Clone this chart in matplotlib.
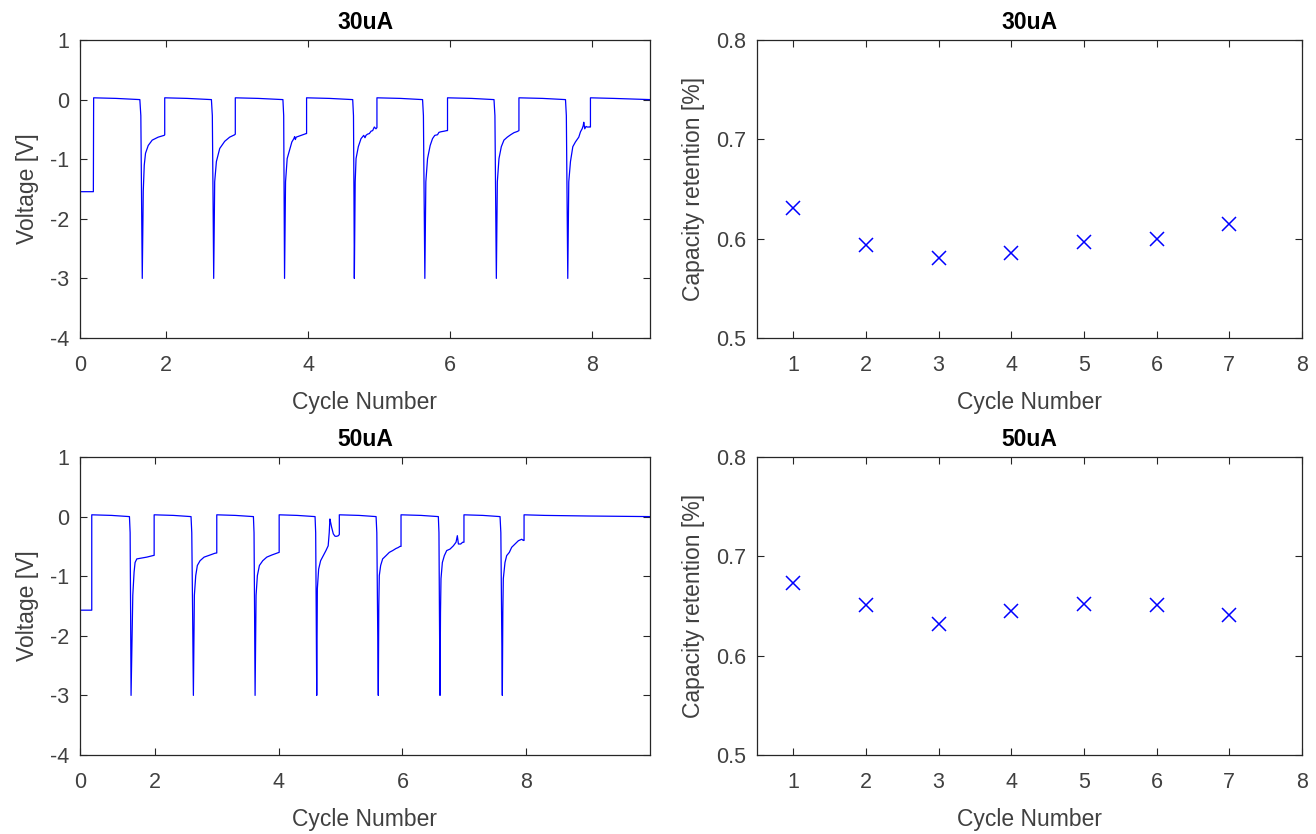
import numpy as np
import matplotlib
matplotlib.use("Agg")
import matplotlib.pyplot as plt

plt.rcParams['font.family'] = ['Liberation Sans', 'DejaVu Sans']
plt.rcParams['axes.unicode_minus'] = False

# voltage trace, 30uA (x = cycle number, v = volts)
t30 = [0.79, 0.978, 0.982, 1.30, 1.632, 1.646, 1.656, 1.666, 1.680, 1.694, 1.712, 1.750, 1.806, 1.890, 1.974, 1.982,
       1.982, 2.30, 2.639, 2.652, 2.662, 2.671, 2.685, 2.709, 2.756, 2.826, 2.896, 2.966, 2.975,
       2.975, 3.30, 3.645, 3.656, 3.662, 3.668, 3.682, 3.705, 3.738, 3.771, 3.799, 3.81, 3.82, 3.832, 3.855, 3.925, 3.972, 3.978,
       3.978, 4.30, 4.627, 4.638, 4.645, 4.65, 4.662, 4.674, 4.706, 4.744, 4.782, 4.80, 4.814, 4.835, 4.861, 4.885, 4.908, 4.931, 4.954, 4.968,
       4.968, 5.30, 5.61, 5.622, 5.632, 5.642, 5.656, 5.680, 5.717, 5.75, 5.782, 5.82, 5.84, 5.867, 5.913, 5.951, 5.961,
       5.961, 6.30, 6.615, 6.628, 6.638, 6.648, 6.662, 6.685, 6.718, 6.755, 6.802, 6.849, 6.896, 6.943, 6.966,
       6.966, 7.30, 7.621, 7.633, 7.643, 7.653, 7.667, 7.691, 7.724, 7.761, 7.808, 7.832, 7.855, 7.87, 7.878, 7.892, 7.91, 7.925, 7.962, 7.972,
       7.972, 8.30, 8.81]
v30 = [-1.545, -1.545, 0.03, 0.02, 0.0, -0.27, -1.65, -3.0, -1.54, -1.10, -0.90, -0.77, -0.68, -0.63, -0.60, -0.59,
       0.03, 0.02, 0.0, -0.27, -1.65, -3.0, -1.38, -1.04, -0.82, -0.70, -0.63, -0.59, -0.58,
       0.03, 0.02, 0.0, -0.27, -1.65, -3.0, -1.38, -0.99, -0.85, -0.71, -0.655, -0.62, -0.67, -0.63, -0.62, -0.59, -0.57, -0.57,
       0.03, 0.02, 0.0, -0.27, -1.65, -3.0, -1.38, -0.99, -0.79, -0.655, -0.60, -0.64, -0.60, -0.58, -0.57, -0.53, -0.52, -0.46, -0.49, -0.47,
       0.03, 0.02, 0.0, -0.27, -1.65, -3.0, -1.38, -0.99, -0.77, -0.655, -0.60, -0.59, -0.55, -0.54, -0.53, -0.52, -0.52,
       0.03, 0.02, 0.0, -0.27, -1.65, -3.0, -1.38, -0.99, -0.79, -0.68, -0.63, -0.59, -0.555, -0.535, -0.52,
       0.03, 0.02, 0.0, -0.27, -1.65, -3.0, -1.38, -1.04, -0.79, -0.71, -0.63, -0.54, -0.49, -0.44, -0.38, -0.49, -0.45, -0.46, -0.46, -0.46,
       0.03, 0.02, 0.0]

# voltage trace, 50uA
t50 = [0.79, 0.98, 0.98, 1.30, 1.589, 1.600, 1.608, 1.615, 1.643, 1.664, 1.68, 1.708, 1.761, 1.869, 1.966, 1.988,
       1.988, 2.30, 2.584, 2.596, 2.61, 2.622, 2.638, 2.66, 2.686, 2.73, 2.795, 2.89, 2.97, 3.0,
       3.0, 3.30, 3.592, 3.602, 3.611, 3.619, 3.635, 3.656, 3.689, 3.743, 3.808, 3.888, 3.98, 4.008,
       4.008, 4.30, 4.588, 4.598, 4.607, 4.615, 4.625, 4.646, 4.678, 4.721, 4.764, 4.80, 4.817, 4.828, 4.84, 4.856, 4.883, 4.911, 4.94, 4.965, 4.98,
       4.98, 5.30, 5.574, 5.586, 5.598, 5.61, 5.618, 5.626, 5.648, 5.68, 5.735, 5.788, 5.842, 5.896, 5.93, 5.96, 5.977,
       5.977, 6.30, 6.58, 6.59, 6.598, 6.607, 6.615, 6.623, 6.645, 6.677, 6.715, 6.769, 6.823, 6.866, 6.887, 6.904, 6.941, 6.973, 6.994,
       6.994, 7.30, 7.577, 7.59, 7.602, 7.614, 7.622, 7.63, 7.657, 7.684, 7.727, 7.765, 7.819, 7.873, 7.927, 7.953, 7.965,
       7.965, 8.30, 9.00, 10.0]
v50 = [-1.57, -1.57, 0.03, 0.02, 0.0, -0.27, -1.65, -3.0, -1.32, -0.93, -0.77, -0.71, -0.70, -0.68, -0.655, -0.65,
       0.03, 0.02, 0.0, -0.27, -1.65, -3.0, -1.32, -0.99, -0.82, -0.74, -0.68, -0.645, -0.615, -0.61,
       0.03, 0.02, 0.0, -0.27, -1.65, -3.0, -1.32, -0.99, -0.82, -0.74, -0.68, -0.645, -0.61, -0.60,
       0.03, 0.02, 0.0, -0.27, -1.65, -3.0, -1.21, -0.88, -0.74, -0.655, -0.57, -0.49, -0.27, -0.04, -0.10, -0.18, -0.29, -0.33, -0.33, -0.32, -0.30,
       0.03, 0.02, 0.0, -0.27, -1.65, -3.0, -1.5, -0.99, -0.82, -0.71, -0.655, -0.60, -0.57, -0.535, -0.52, -0.50, -0.50,
       0.03, 0.02, 0.0, -0.27, -1.65, -3.0, -1.6, -1.04, -0.77, -0.655, -0.57, -0.545, -0.49, -0.43, -0.32, -0.46, -0.46, -0.43, -0.43,
       0.03, 0.02, 0.0, -0.27, -1.65, -3.0, -1.6, -1.04, -0.77, -0.655, -0.60, -0.515, -0.46, -0.405, -0.38, -0.40, -0.40,
       0.03, 0.02, 0.01, 0.0]

cycles = [1, 2, 3, 4, 5, 6, 7]
ret30 = [0.631, 0.594, 0.581, 0.586, 0.597, 0.600, 0.615]
ret50 = [0.673, 0.651, 0.632, 0.645, 0.652, 0.651, 0.641]

vticks = [1, 0, -1, -2, -3, -4]
xtick_labels = ['0', '2', '4', '6', '8']

blue = (0, 0, 1)
gray = '#262626'

fig = plt.figure(figsize=(13.16, 8.34), dpi=100)
W, H = 1316, 834


def place(l, t, r, b):
    return fig.add_axes([l / W, 1 - b / H, (r - l) / W, (b - t) / H])


def style(ax, title):
    for s in ax.spines.values():
        s.set_color(gray)
        s.set_linewidth(0.9)
    ax.tick_params(direction='in', top=True, right=True, length=5, width=0.8,
                   labelsize=15.5, colors=gray, labelcolor='#404040')
    ax.tick_params(axis='x', pad=12)
    ax.tick_params(axis='y', pad=8)
    ax.set_title(title, fontsize=16.5, fontweight='bold', color='black', pad=8)
    ax.set_xlabel('Cycle Number', fontsize=16.5, color='#404040', labelpad=11)


ax1 = place(80, 40, 650, 338)
ax2 = place(757, 40, 1302, 338)
ax3 = place(80, 457, 650, 755)
ax4 = place(757, 457, 1302, 755)

for ax, t, v, x1 in [(ax1, t30, v30, 8.81), (ax3, t50, v50, 10.0)]:
    ax.plot(t, v, color=blue, lw=0.9)
    ax.set_xlim(0.79, x1)
    ax.set_xticks([0.79, 2, 4, 6, 8], xtick_labels)
    ax.set_ylim(-4, 1)
    ax.set_yticks(vticks)
    ax.set_ylabel('Voltage [V]', fontsize=16.5, color='#404040', labelpad=8)

for ax, r in [(ax2, ret30), (ax4, ret50)]:
    ax.plot(cycles, r, 'x', color=blue, ms=10, mew=1.1)
    ax.set_xlim(0.5, 8)
    ax.set_xticks(range(1, 9))
    ax.set_ylim(0.5, 0.8)
    ax.set_yticks([0.5, 0.6, 0.7, 0.8])
    ax.set_ylabel('Capacity retention [%]', fontsize=16.5, color='#404040', labelpad=8)

style(ax1, '30uA')
style(ax2, '30uA')
style(ax3, '50uA')
style(ax4, '50uA')

fig.savefig('out.png', dpi=100)
